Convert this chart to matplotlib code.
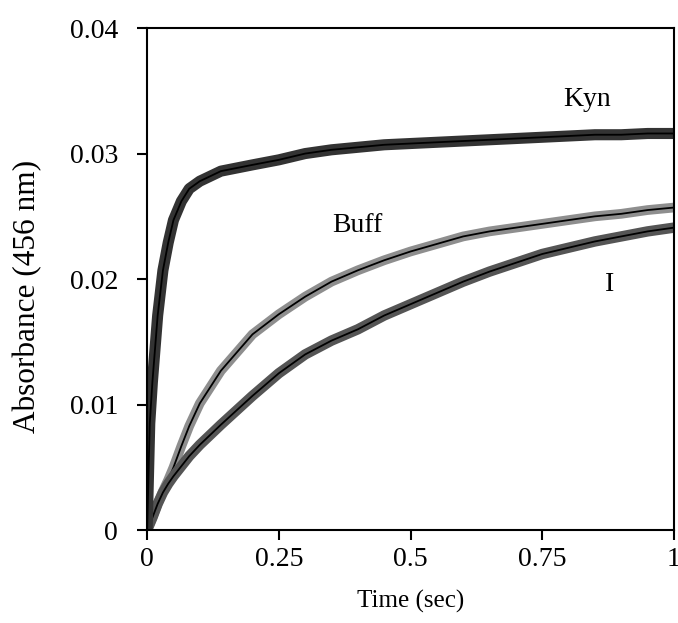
import matplotlib.pyplot as plt

# time grid (sec) and absorbance at 456 nm
time = [0, 0.005, 0.01, 0.02, 0.03, 0.04, 0.05, 0.065, 0.08, 0.1, 0.14, 0.2,
        0.25, 0.3, 0.35, 0.4, 0.45, 0.5, 0.55, 0.6, 0.65, 0.7, 0.75, 0.8,
        0.85, 0.9, 0.95, 1.0]
kyn = [0, 0.0085, 0.0118, 0.0171, 0.0207, 0.0229, 0.0247, 0.0262, 0.0272,
       0.0278, 0.0286, 0.0291, 0.0295, 0.0300, 0.0303, 0.0305, 0.0307,
       0.0308, 0.0309, 0.0310, 0.0311, 0.0312, 0.0313, 0.0314, 0.0315,
       0.0315, 0.0316, 0.0316]
buff = [0, 0.0005, 0.001, 0.0021, 0.0031, 0.0040, 0.0050, 0.0067, 0.0083,
        0.0101, 0.0127, 0.0156, 0.0172, 0.0186, 0.0198, 0.0207, 0.0215,
        0.0222, 0.0228, 0.0234, 0.0238, 0.0241, 0.0244, 0.0247, 0.0250,
        0.0252, 0.0255, 0.0257]
inh = [0, 0.0005, 0.001, 0.0021, 0.0030, 0.0037, 0.0043, 0.0051, 0.0059,
       0.0068, 0.0084, 0.0107, 0.0125, 0.0140, 0.0151, 0.0160, 0.0171,
       0.0180, 0.0189, 0.0198, 0.0206, 0.0213, 0.0220, 0.0225, 0.0230,
       0.0234, 0.0238, 0.0241]

x_ticks = [0, 0.25, 0.5, 0.75, 1]
x_labels = ['0', '0.25', '0.5', '0.75', '1']
y_ticks = [0, 0.01, 0.02, 0.03, 0.04]
y_labels = ['0', '0.01', '0.02', '0.03', '0.04']

plt.rcParams['font.family'] = ['Liberation Serif', 'DejaVu Serif']

fig = plt.figure(figsize=(6.78, 6.23), dpi=100)
ax = fig.add_axes([0.217, 0.149, 0.777, 0.806])

# thick grey trace with thin black fit on top
ax.plot(time, buff, color='#8e8e8e', lw=7, solid_capstyle='round')
ax.plot(time, buff, color='black', lw=1.3)
ax.plot(time, inh, color='#555555', lw=7.5, solid_capstyle='round')
ax.plot(time, inh, color='black', lw=1.3)
ax.plot(time, kyn, color='#333333', lw=8, solid_capstyle='round')
ax.plot(time, kyn, color='black', lw=1.3)

ax.text(0.835, 0.0343, 'Kyn', fontsize=20, ha='center', va='center')
ax.text(0.40, 0.0243, 'Buff', fontsize=20, ha='center', va='center')
ax.text(0.878, 0.0196, 'I', fontsize=20, ha='center', va='center')

ax.set_xlim(0, 1)
ax.set_ylim(0, 0.04)
ax.set_xticks(x_ticks)
ax.set_xticklabels(x_labels)
ax.set_yticks(y_ticks)
ax.set_yticklabels(y_labels)
ax.tick_params(direction='out', length=7, width=1.5, labelsize=20)
ax.tick_params(axis='x', pad=5)
ax.tick_params(axis='y', pad=14)
for sp in ax.spines.values():
    sp.set_linewidth(1.5)

ax.set_xlabel('Time (sec)', fontsize=18, labelpad=13)
ax.set_ylabel('Absorbance (456 nm)', fontsize=22.5)
ax.yaxis.set_label_coords(-0.2, 0.465)

fig.savefig('out.png', dpi=100)
